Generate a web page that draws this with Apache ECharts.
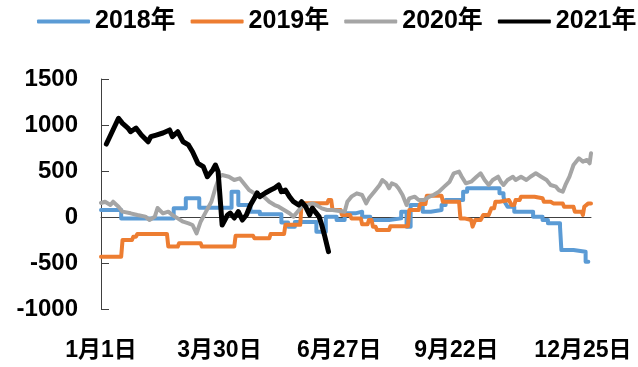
<!DOCTYPE html>
<html>
<head>
<meta charset="utf-8">
<script src="https://cdn.jsdelivr.net/npm/echarts@6/dist/echarts.min.js"></script>
<style>
  html, body { margin: 0; padding: 0; background: #fff; }
  #chart { width: 638px; height: 367px; }
</style>
</head>
<body>
<div id="chart"></div>
<script>
// Year labels and colours for the four lines
const years = ['2018年', '2019年', '2020年', '2021年'];
const colors = ['#5B9BD5', '#ED7D31', '#A5A5A5', '#000000'];

// Calendar-day categories, labelled only at these dates
const monthLengths = [31, 28, 31, 30, 31, 30, 31, 31, 30, 31, 30, 31];
const tickLabels = ['1月1日', '3月30日', '6月27日', '9月22日', '12月25日'];

// Y axis range
const yMin = -1000, yMax = 1500, yStep = 500;

// Each point: [day of year (0-based), value]
const s2018 = [
  [0, 76], [15, 76], [15, -15], [54, -15], [54, 94], [63, 94], [63, 203], [73, 203],
  [73, 100], [97, 100], [97, 275], [102, 275], [102, 130], [111, 130], [111, 58], [118, 58],
  [118, 30], [134, 30], [134, -60], [139, -60], [139, -105], [144, -105], [144, -55], [160, -55],
  [160, -160], [167, -160], [167, 4], [175, 4], [175, -33], [181, -33], [181, 40], [189, 40],
  [189, 58], [194, 58], [194, 4], [200, 4], [200, -33], [214, -33], [214, -15], [223, -15],
  [223, 58], [227, 58], [227, -105], [230, -105], [230, 130], [239, 130], [239, 58], [245, 58],
  [245, 76], [253, 76], [253, 130], [256, 130], [256, 185], [269, 185], [269, 275], [272, 275],
  [272, 312], [296, 312], [296, 257], [299, 257], [299, 221], [300, 160], [302, 112], [307, 112],
  [307, 58], [321, 58], [321, 4], [328, 4], [328, -33], [332, -33], [332, -69], [341, -69],
  [341, -110], [342, -359], [351, -359], [351, -377], [360, -377], [360, -486], [362, -486]
];

const s2019 = [
  [0, -431], [15, -431], [16, -250], [23, -250], [24, -214], [26, -214], [27, -185], [49, -185],
  [50, -322], [57, -322], [58, -286], [74, -286], [75, -322], [99, -322], [100, -205], [113, -205],
  [114, -232], [125, -232], [126, -185], [136, -185], [137, -85], [148, -85], [149, 150], [168, 150],
  [169, 185], [171, 185], [172, 76], [178, 76], [179, 22], [185, 22], [186, -15], [193, -15],
  [194, -80], [198, -80], [199, -33], [201, -33], [202, -105], [204, -105], [205, -141], [214, -141],
  [215, -100], [228, -100], [229, 76], [236, 76], [237, 140], [241, 140], [242, 230], [253, 230],
  [254, 166], [266, 166], [267, -15], [270, -15], [271, -33], [275, -33], [276, -105], [278, -33],
  [282, -33], [284, 22], [288, 22], [290, 94], [292, 94], [293, 166], [296, 166], [297, 185],
  [303, 185], [305, 130], [307, 130], [308, 185], [311, 185], [312, 221], [322, 221], [323, 203],
  [328, 203], [329, 166], [334, 166], [336, 148], [343, 148], [344, 112], [351, 112], [352, 58],
  [357, 58], [358, 22], [359, 112], [362, 148], [364, 148]
];

const s2020 = [
  [0, 152], [3, 166], [7, 130], [9, 166], [13, 112], [16, 58], [22, 40], [27, 22],
  [33, 4], [36, -33], [40, 4], [42, 98], [46, 40], [50, 58], [53, 22], [57, -15],
  [61, -51], [65, -69], [68, -87], [71, -178], [74, -51], [78, 58], [82, 166], [85, 315],
  [88, 438], [90, 456], [95, 438], [99, 402], [103, 420], [106, 366], [110, 293], [114, 257],
  [117, 239], [121, 221], [125, 166], [129, 130], [132, 112], [136, 76], [140, 40], [143, 4],
  [146, 58], [149, 112], [153, 130], [157, 148], [160, 130], [164, 94], [168, 76], [172, 76],
  [181, 58], [183, 166], [186, 221], [190, 257], [194, 239], [197, 148], [199, 203], [203, 275],
  [207, 348], [209, 402], [212, 366], [214, 312], [216, 366], [219, 348], [221, 312], [224, 239],
  [227, 130], [229, 203], [233, 221], [236, 185], [240, 185], [244, 221], [247, 239], [251, 275],
  [255, 330], [259, 384], [262, 475], [266, 493], [268, 438], [271, 366], [275, 384], [279, 438],
  [282, 475], [285, 402], [288, 348], [291, 402], [295, 438], [297, 384], [299, 348], [302, 402],
  [306, 438], [308, 402], [312, 438], [316, 402], [319, 438], [323, 475], [327, 438], [331, 402],
  [334, 348], [338, 330], [340, 293], [343, 275], [345, 348], [348, 438], [351, 565], [355, 638],
  [358, 602], [361, 620], [363, 584], [364, 693]
];

const s2021 = [
  [4, 793], [13, 1073], [16, 1018], [20, 967], [22, 927], [26, 967], [30, 891], [35, 818],
  [37, 873], [41, 891], [46, 913], [51, 946], [53, 873], [57, 927], [61, 818], [65, 783],
  [68, 710], [72, 583], [76, 547], [79, 438], [83, 511], [85, 565], [87, 493], [90, -87],
  [94, 22], [96, 43], [99, -11], [102, 58], [105, -33], [108, 22], [111, 130], [114, 207],
  [116, 261], [118, 221], [122, 261], [126, 293], [129, 315], [132, 348], [134, 275], [137, 293],
  [140, 221], [143, 166], [147, 130], [149, 166], [152, 112], [155, 22], [157, 98], [159, 58],
  [162, 4], [164, -87], [166, -196], [169, -377]
];

const seriesData = [s2018, s2019, s2020, s2021];

const categories = [];
monthLengths.forEach((n, m) => {
  for (let d = 1; d <= n; d++) categories.push((m + 1) + '月' + d + '日');
});

const FONT = '"Liberation Sans", "Noto Sans CJK SC", sans-serif';
const axisColor = '#404040';

const chart = echarts.init(document.getElementById('chart'), null, { renderer: 'canvas' });

chart.setOption({
  animation: false,
  backgroundColor: '#ffffff',
  color: colors,
  legend: {
    data: years,
    orient: 'horizontal',
    left: 37,
    top: 9,
    width: 640,
    padding: 0,
    icon: 'roundRect',
    itemWidth: 53,
    itemHeight: 4,
    itemGap: 15,
    textStyle: { fontFamily: FONT, fontSize: 25, fontWeight: 'bold', color: '#000' }
  },
  grid: { left: 101, right: 47, top: 79, bottom: 58 },
  xAxis: [
    {
      type: 'category',
      data: categories,
      boundaryGap: false,
      axisLine: { show: false, onZero: false },
      axisTick: { show: false },
      splitLine: { show: false },
      axisLabel: {
        interval: (idx, val) => tickLabels.includes(val),
        margin: 30,
        fontFamily: FONT,
        fontSize: 23,
        fontWeight: 'bold',
        color: '#000'
      }
    },
    {
      // zero baseline
      type: 'category',
      data: categories,
      boundaryGap: false,
      position: 'bottom',
      axisLine: { show: true, onZero: true, lineStyle: { color: axisColor, width: 1 } },
      axisTick: { show: false },
      axisLabel: { show: false },
      splitLine: { show: false }
    }
  ],
  yAxis: {
    type: 'value',
    min: yMin,
    max: yMax,
    interval: yStep,
    axisLine: { show: true, lineStyle: { color: axisColor, width: 1 } },
    axisTick: { show: true, inside: true, length: 8, lineStyle: { color: axisColor } },
    splitLine: { show: false },
    axisLabel: {
      margin: 23,
      fontFamily: FONT,
      fontSize: 24,
      fontWeight: 'bold',
      color: '#000',
      formatter: v => String(v)
    }
  },
  series: years.map((name, i) => ({
    name: name,
    type: 'line',
    xAxisIndex: 0,
    data: seriesData[i],
    showSymbol: false,
    symbol: 'none',
    lineStyle: { width: i === 3 ? 5 : 4, color: colors[i], join: 'round', cap: 'round' },
    itemStyle: { color: colors[i] },
    z: 2 + i
  }))
});
</script>
</body>
</html>
